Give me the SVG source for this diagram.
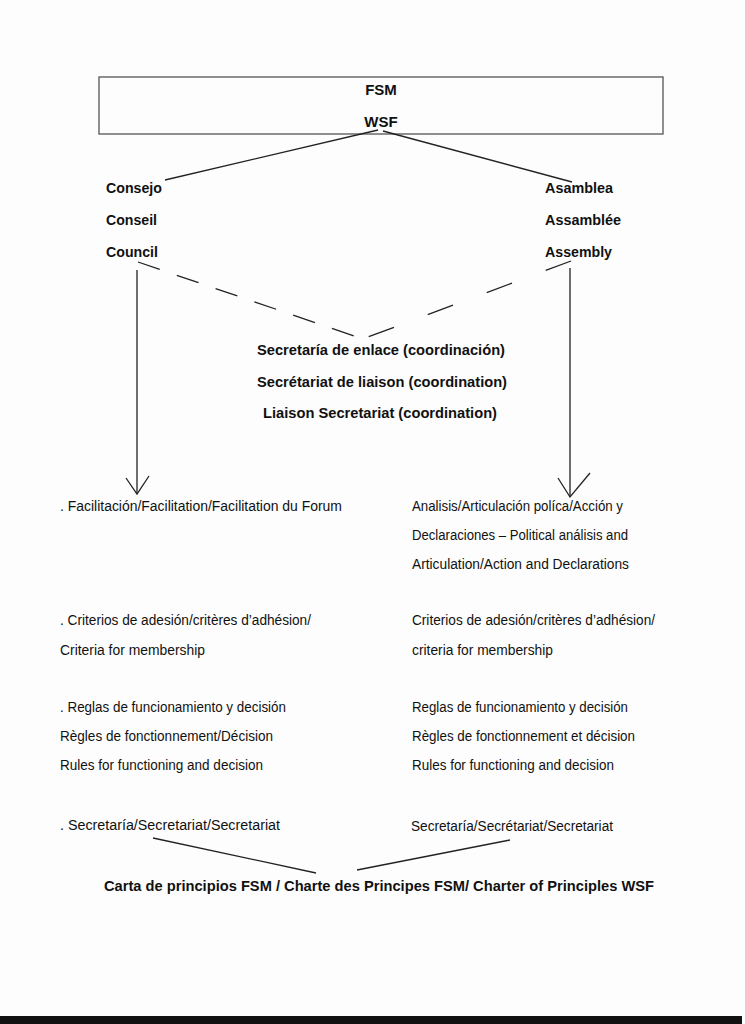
<svg xmlns="http://www.w3.org/2000/svg" width="745" height="1024" viewBox="0 0 745 1024">
<style>
.b{font-family:"Liberation Sans",Arial,sans-serif;font-weight:bold;font-size:15px;fill:#111}
.r{font-family:"Liberation Sans",Arial,sans-serif;font-size:14px;fill:#111}
.ln{stroke:#222;stroke-width:1.3;fill:none}
</style>
<rect width="745" height="1024" fill="#fdfdfd"/>
<g id="wsf">
<rect x="99" y="77" width="564" height="57" fill="none" stroke="#555" stroke-width="1.3"/>
<text class="b" x="381" y="95" text-anchor="middle">FSM</text>
<text class="b" x="381" y="127" text-anchor="middle">WSF</text>
</g>
<g id="council">
<text class="b" x="106" y="193" textLength="56" lengthAdjust="spacingAndGlyphs">Consejo</text>
<text class="b" x="106" y="225" textLength="51" lengthAdjust="spacingAndGlyphs">Conseil</text>
<text class="b" x="106" y="257" textLength="52" lengthAdjust="spacingAndGlyphs">Council</text>
</g>
<g id="assembly">
<text class="b" x="545" y="193" textLength="68" lengthAdjust="spacingAndGlyphs">Asamblea</text>
<text class="b" x="545" y="225" textLength="76" lengthAdjust="spacingAndGlyphs">Assamblée</text>
<text class="b" x="545" y="257" textLength="67" lengthAdjust="spacingAndGlyphs">Assembly</text>
</g>
<g id="liaison">
<text class="b" x="381" y="355" text-anchor="middle" textLength="248" lengthAdjust="spacingAndGlyphs">Secretaría de enlace (coordinación)</text>
<text class="b" x="382" y="387" text-anchor="middle" textLength="250" lengthAdjust="spacingAndGlyphs">Secrétariat de liaison (coordination)</text>
<text class="b" x="380" y="418" text-anchor="middle" textLength="234" lengthAdjust="spacingAndGlyphs">Liaison Secretariat (coordination)</text>
</g>
<g id="council-functions">
<text class="r" x="60" y="511" textLength="282" lengthAdjust="spacingAndGlyphs">. Facilitación/Facilitation/Facilitation  du Forum</text>
<text class="r" x="60" y="625" textLength="251" lengthAdjust="spacingAndGlyphs">. Criterios de adesión/critères d’adhésion/</text>
<text class="r" x="60" y="655" textLength="145" lengthAdjust="spacingAndGlyphs">Criteria for membership</text>
<text class="r" x="60" y="712" textLength="226" lengthAdjust="spacingAndGlyphs">. Reglas de funcionamiento y decisión</text>
<text class="r" x="60" y="741" textLength="213" lengthAdjust="spacingAndGlyphs">Règles de fonctionnement/Décision</text>
<text class="r" x="60" y="770" textLength="203" lengthAdjust="spacingAndGlyphs">Rules for functioning and decision</text>
<text class="r" x="60" y="830" textLength="220" lengthAdjust="spacingAndGlyphs">. Secretaría/Secretariat/Secretariat</text>
</g>
<g id="assembly-functions">
<text class="r" x="412" y="511" textLength="211" lengthAdjust="spacingAndGlyphs">Analisis/Articulación políca/Acción y</text>
<text class="r" x="412" y="540" textLength="216" lengthAdjust="spacingAndGlyphs">Declaraciones – Political análisis and</text>
<text class="r" x="412" y="569" textLength="217" lengthAdjust="spacingAndGlyphs">Articulation/Action and Declarations</text>
<text class="r" x="412" y="625" textLength="243" lengthAdjust="spacingAndGlyphs">Criterios de adesión/critères d’adhésion/</text>
<text class="r" x="412" y="655" textLength="141" lengthAdjust="spacingAndGlyphs">criteria for membership</text>
<text class="r" x="412" y="712" textLength="216" lengthAdjust="spacingAndGlyphs">Reglas de funcionamiento y decisión</text>
<text class="r" x="412" y="741" textLength="223" lengthAdjust="spacingAndGlyphs">Règles de fonctionnement et décision</text>
<text class="r" x="412" y="770" textLength="202" lengthAdjust="spacingAndGlyphs">Rules for functioning and decision</text>
<text class="r" x="411" y="831" textLength="202" lengthAdjust="spacingAndGlyphs">Secretaría/Secrétariat/Secretariat</text>
</g>
<g id="charter">
<text class="b" x="104" y="891" textLength="550" lengthAdjust="spacingAndGlyphs">Carta de principios FSM / Charte des Principes FSM/ Charter of Principles WSF</text>
</g>
<g id="connectors">
<line class="ln" x1="378" y1="130" x2="165" y2="180"/>
<line class="ln" x1="383" y1="131" x2="572" y2="182"/>
<line class="ln" x1="138" y1="262" x2="366" y2="340" stroke-dasharray="23 18"/>
<line class="ln" x1="571" y1="261" x2="368" y2="337" stroke-dasharray="27 36"/>
<line class="ln" x1="137" y1="270" x2="137" y2="494"/>
<polyline class="ln" points="126,478 137,494 149,476"/>
<line class="ln" x1="570" y1="268" x2="570" y2="497"/>
<polyline class="ln" points="558,478 570,497 590,473"/>
<line class="ln" x1="153" y1="838" x2="316" y2="873"/>
<line class="ln" x1="357" y1="870" x2="510" y2="840"/>
</g>
<rect x="0" y="1016" width="742" height="8" fill="#111"/>
</svg>
